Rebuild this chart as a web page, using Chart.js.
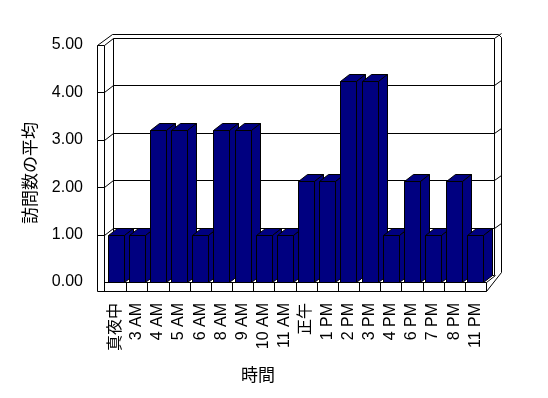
<!DOCTYPE html>
<html>
<head>
<meta charset="utf-8">
<script src="https://cdn.jsdelivr.net/npm/chart.js@4/dist/chart.umd.min.js"></script>
<style>
html,body{margin:0;padding:0;background:#ffffff;overflow:hidden;}
#wrap{width:548px;height:398px;position:relative;}
</style>
</head>
<body>
<div id="wrap"><canvas id="c" width="548" height="398"></canvas></div>
<script>
// ---- data ----
const categories = ['真夜中','3 AM','4 AM','5 AM','6 AM','8 AM','9 AM','10 AM','11 AM','正午','1 PM','2 PM','3 PM','4 PM','6 PM','7 PM','8 PM','11 PM'];
const averageVisits = [1, 1, 3.2, 3.2, 1, 3.2, 3.2, 1, 1, 2.13, 2.13, 4.24, 4.24, 1, 2.13, 1, 2.13, 1];
const yTickValues = [0, 1, 2, 3, 4, 5];
const xAxisTitle = '時間';
const yAxisTitle = '訪問数の平均';

// ---- style ----
const BAR_COLOR = '#000080';
const LINE = '#000000';
const DX = 9, DY = -7;          // 3-D depth offset
const FONT_FAMILY = "'Liberation Sans', Arial, 'Noto Sans CJK JP', sans-serif";
const CJK_FAMILY = "'Noto Sans CJK JP', 'Liberation Sans', sans-serif";

function ln(ctx, x1, y1, x2, y2) {
  ctx.beginPath();
  ctx.moveTo(Math.round(x1) + 0.5, Math.round(y1) + 0.5);
  ctx.lineTo(Math.round(x2) + 0.5, Math.round(y2) + 0.5);
  ctx.stroke();
}

const frame3d = {
  id: 'frame3d',
  beforeDraw(chart) {
    const ctx = chart.ctx;
    ctx.save();
    ctx.fillStyle = '#ffffff';
    ctx.fillRect(0, 0, chart.width, chart.height);
    ctx.restore();
  },
  beforeDatasetsDraw(chart) {
    const ctx = chart.ctx;
    const xs = chart.scales.x, ys = chart.scales.y;
    const x0 = xs.left, x1 = xs.right;
    const yTop = ys.getPixelForValue(yTickValues[yTickValues.length - 1]);
    const yBot = ys.getPixelForValue(yTickValues[0]);
    const wallOut = x0 - 8, wallIn = x0 - 1;
    const floorBot = yBot + 9;
    const bx0 = wallIn + DX, bx1 = x1 + DX - 1;
    ctx.save();
    ctx.strokeStyle = LINE;
    ctx.lineWidth = 1;
    ctx.fillStyle = '#ffffff';
    // left wall front face
    ln(ctx, wallOut, yTop, wallOut, floorBot);
    ln(ctx, wallIn, yTop, wallIn, floorBot);
    ln(ctx, wallOut, yTop, wallIn, yTop);
    // left wall top
    ln(ctx, wallOut, yTop, bx0 - 1, yTop + DY - 4);
    ln(ctx, wallIn, yTop, bx0, yTop + DY);
    // back wall
    ln(ctx, bx0 - 1, yTop + DY - 4, bx1 + 4, yTop + DY - 4);
    ln(ctx, bx1 + 4, yTop + DY - 4, bx1 + 7, yTop + DY - 1);
    ln(ctx, bx0, yTop + DY, bx1, yTop + DY);
    ln(ctx, bx1, yTop + DY, bx1 + 7, yTop + DY - 5);
    ln(ctx, bx0, yTop + DY, bx0, yBot + DY);
    ln(ctx, bx1, yTop + DY, bx1, yBot + DY);
    ln(ctx, bx1 + 7, yTop + DY - 1, bx1 + 7, yBot + DY - 3);
    ln(ctx, bx1 + 7, yBot + DY - 3, x1, floorBot);
    // gridlines
    for (const v of yTickValues) {
      if (v === yTickValues[0] || v === yTickValues[yTickValues.length - 1]) continue;
      const yf = ys.getPixelForValue(v);
      const yb = yf + DY;
      ln(ctx, wallOut, yf, wallIn, yf);
      ln(ctx, wallIn, yf, bx0, yb);
      ln(ctx, bx0, yb, bx1, yb);
      ln(ctx, bx1, yb, bx1 + 7, yb - 5);
    }
    // floor
    ln(ctx, wallIn, yBot, x1, yBot);
    ln(ctx, wallOut, floorBot, x1, floorBot);
    ln(ctx, x1, yBot, x1, floorBot);
    ln(ctx, x1, yBot, x1 + DX, yBot + DY);
    ln(ctx, bx0, yBot + DY, bx1, yBot + DY);
    const n = categories.length;
    const w = (x1 - x0) / n;
    for (let i = 1; i < n; i++) {
      const xx = x0 + i * w;
      ln(ctx, xx, yBot, xx, floorBot);
    }
    ctx.restore();
  },
  beforeDatasetDraw(chart, args) {
    const ctx = chart.ctx;
    const meta = args.meta;
    ctx.save();
    ctx.lineWidth = 1;
    ctx.strokeStyle = LINE;
    ctx.fillStyle = BAR_COLOR;
    meta.data.forEach((bar) => {
      const p = bar.getProps(['x', 'y', 'base', 'width'], true);
      const L = Math.round(p.x - p.width / 2) + 0.5;
      const R = Math.round(p.x + p.width / 2) + 0.5;
      const T = Math.round(p.y) + 0.5;
      const B = Math.round(p.base) + 0.5;
      // top face
      ctx.beginPath();
      ctx.moveTo(L, T); ctx.lineTo(R, T); ctx.lineTo(R + DX, T + DY); ctx.lineTo(L + DX, T + DY); ctx.closePath();
      ctx.fill(); ctx.stroke();
      // side face
      ctx.beginPath();
      ctx.moveTo(R, T); ctx.lineTo(R + DX, T + DY); ctx.lineTo(R + DX, B + DY); ctx.lineTo(R, B); ctx.closePath();
      ctx.fill(); ctx.stroke();
      // front face
      ctx.beginPath();
      ctx.rect(L, T, R - L, B - T);
      ctx.fill(); ctx.stroke();
    });
    ctx.restore();
    return false;
  },
  afterDraw(chart) {
    const ctx = chart.ctx;
    ctx.save();
    ctx.fillStyle = '#000000';
    ctx.font = '17px ' + CJK_FAMILY;
    ctx.textAlign = 'center';
    ctx.textBaseline = 'middle';
    ctx.fillText(xAxisTitle, 258, 375);
    ctx.translate(30, 173);
    ctx.rotate(-Math.PI / 2);
    ctx.fillText(yAxisTitle, 0, 0);
    ctx.restore();
  }
};

new Chart(document.getElementById('c'), {
  type: 'bar',
  data: {
    labels: categories,
    datasets: [{
      data: averageVisits,
      backgroundColor: BAR_COLOR,
      borderColor: LINE,
      borderWidth: 1,
      categoryPercentage: 1,
      barPercentage: 0.76
    }]
  },
  options: {
    responsive: false,
    animation: false,
    devicePixelRatio: 1,
    layout: { padding: { top: 45, right: 62, left: 0, bottom: 0 } },
    plugins: { legend: { display: false }, tooltip: { enabled: false }, title: { display: false } },
    scales: {
      x: {
        type: 'category',
        offset: true,
        grid: { display: false, drawTicks: false },
        border: { display: false },
        ticks: {
          autoSkip: false,
          maxRotation: 90,
          minRotation: 90,
          padding: 21,
          color: '#000000',
          font: { family: FONT_FAMILY, size: 16 }
        },
        afterFit(scale) { scale.height = 398 - 282; }
      },
      y: {
        min: yTickValues[0],
        max: yTickValues[yTickValues.length - 1],
        grid: { display: false, drawTicks: false },
        border: { display: false },
        afterBuildTicks(scale) { scale.ticks = yTickValues.map(v => ({ value: v })); },
        ticks: {
          padding: 22,
          color: '#000000',
          font: { family: FONT_FAMILY, size: 16 },
          callback: (v) => Number(v).toFixed(2)
        },
        afterFit(scale) { scale.width = 105; }
      }
    }
  },
  plugins: [frame3d]
});
</script>
</body>
</html>
